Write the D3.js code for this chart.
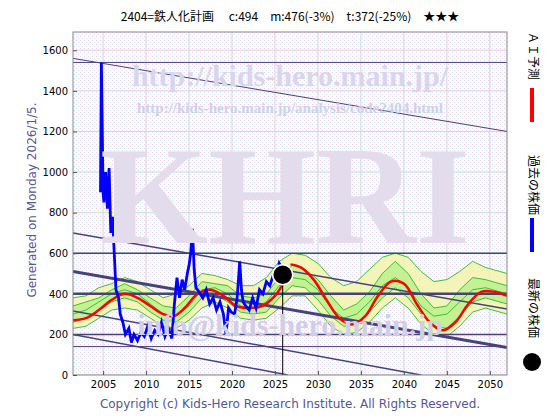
<!DOCTYPE html><html><head><meta charset="utf-8">
<script src="https://cdn.jsdelivr.net/npm/d3@7"></script>
<style>body{margin:0;background:#fff}</style></head><body>
<svg id="c" width="560" height="420"></svg>
<script>
const title="2404=鉄人化計画　 c:494　m:476(-3%)　t:372(-25%)　★★★";
const xTicks=[2005,2010,2015,2020,2025,2030,2035,2040,2045,2050];
const yTicks=[0,200,400,600,800,1000,1200,1400,1600];
const hLines=[[1540,1],[600,1.5],[400,2.5],[200,1.5],[140,1]];
const dLines=[[2001.5,1560,2052,1200,1],[2001.5,700,2052,325,1.5],[2001.5,510,2052,135,3],[2001.5,315,2042,0,1.5],[2001.5,200,2026.5,0,1.5]];
const blueX=[2004.7,2004.8,2005.0,2005.1,2005.3,2005.5,2005.7,2005.9,2006.1,2006.3,2006.5,2006.8,2007.0,2007.3,2007.6,2008.0,2008.3,2008.6,2009.0,2009.4,2009.8,2010.2,2010.6,2011.0,2011.4,2011.8,2012.2,2012.6,2013.0,2013.3,2013.6,2013.9,2014.2,2014.5,2014.8,2015.0,2015.2,2015.4,2015.6,2015.8,2016.0,2016.3,2016.6,2017.0,2017.4,2017.8,2018.2,2018.6,2019.0,2019.3,2019.6,2019.9,2020.3,2020.6,2020.9,2021.1,2021.3,2021.6,2022.0,2022.4,2022.8,2023.2,2023.6,2024.0,2024.4,2024.8,2025.2,2025.5,2025.8];
const blueY=[900,1540,900,850,1000,820,1020,700,780,600,420,380,300,260,200,230,160,200,170,210,190,240,180,220,200,260,190,230,180,350,480,380,470,420,500,540,600,720,520,430,420,400,380,420,350,380,320,360,300,200,330,310,300,380,560,420,360,340,320,380,330,420,400,460,440,490,470,550,530];
const redX=[2001.5,2003,2004.5,2006,2007.5,2009,2010.5,2012,2013.2,2014.5,2016,2017.5,2019,2020.5,2022,2023.5,2025,2026.2];
const redY=[270,280,320,370,400,380,340,300,290,330,400,420,390,340,330,340,390,470];
const red2X=[2026.8,2028,2029.5,2031,2032.5,2034,2035.5,2037,2038.5,2040,2041.5,2043,2044.5,2046,2047.5,2049,2050.5,2052];
const red2Y=[545,530,470,370,280,250,290,390,460,450,350,260,220,260,350,410,410,390];
const bandX=[2001.5,2003,2004.5,2006,2007.5,2009,2010.5,2012,2013.5,2015,2016.5,2018,2019.5,2021,2022.5,2024,2025.5,2027,2028.5,2030,2031.5,2033,2034.5,2036,2037.5,2039,2040.5,2042,2043.5,2045,2046.5,2048,2049.5,2052];
const bandLo=[230,240,280,320,330,320,280,240,230,270,330,360,330,280,270,280,330,390,390,320,240,200,210,260,330,380,330,250,200,190,240,310,330,300];
const bandHi=[380,390,430,450,480,460,420,380,400,440,500,490,470,440,440,480,560,600,590,550,480,440,460,520,580,600,580,510,460,470,510,560,530,500];
const gA=[300,320,360,400,420,400,350,300,290,340,420,430,400,340,330,360,440,480,470,420,330,280,300,360,440,480,430,340,290,300,360,420,430,400];
const gB=[340,360,380,420,450,420,380,340,330,390,460,450,440,390,380,400,480,540,520,470,390,320,350,410,500,560,500,400,330,340,420,480,470,440];
const gC=[260,280,320,360,380,360,310,270,260,310,380,400,360,310,300,310,380,440,430,370,290,240,250,310,380,430,380,300,240,230,290,360,380,350];

const svg=d3.select("#c");
const L=73,R=507,T=32,B=375;
const x=d3.scaleLinear().domain([2001.5,2052]).range([L,R]);
const y=d3.scaleLinear().domain([0,1690]).range([B,T]);
const defs=svg.append("defs");
const p=defs.append("pattern").attr("id","dot").attr("width",4).attr("height",4).attr("patternUnits","userSpaceOnUse");
p.append("rect").attr("width",4).attr("height",4).attr("fill","#fdfafd");
p.append("rect").attr("x",0).attr("y",0).attr("width",1).attr("height",1).attr("fill","#f0d0f0");
p.append("rect").attr("x",2).attr("y",2).attr("width",1).attr("height",1).attr("fill","#c8f0f0");
defs.append("clipPath").attr("id","cl").append("rect").attr("x",L).attr("y",T).attr("width",R-L).attr("height",B-T);
svg.append("rect").attr("x",L).attr("y",T).attr("width",R-L).attr("height",B-T).attr("fill","url(#dot)");
const g=svg.append("g").attr("clip-path","url(#cl)");
xTicks.forEach(t=>g.append("line").attr("x1",x(t)).attr("x2",x(t)).attr("y1",T).attr("y2",B).attr("stroke","#d8d8d8"));
yTicks.forEach(t=>g.append("line").attr("y1",y(t)).attr("y2",y(t)).attr("x1",L).attr("x2",R).attr("stroke","#d8d8d8"));
svg.append("text").attr("x",290).attr("y",86).attr("text-anchor","middle").attr("font-family","Liberation Serif").attr("font-weight","bold").attr("font-size",30).attr("fill","#d6d6ee").text("http://kids-hero.main.jp/");
svg.append("text").attr("x",290).attr("y",113).attr("text-anchor","middle").attr("font-family","Liberation Serif").attr("font-weight","bold").attr("font-size",15).attr("fill","#d0d0ea").text("http://kids-hero.main.jp/analysis/code2404.html");
svg.append("text").attr("x",285).attr("y",243).attr("text-anchor","middle").attr("font-family","Liberation Serif").attr("font-weight","bold").attr("font-size",140).attr("fill","#e2dcec").attr("textLength",370).attr("lengthAdjust","spacingAndGlyphs").text("KHRI");
svg.append("text").attr("x",290).attr("y",335).attr("text-anchor","middle").attr("font-family","Liberation Serif").attr("font-weight","bold").attr("font-size",30).attr("fill","#cfcfe8").text("info@kids-hero.main.jp");
g.append("path").datum(bandX.map((d,i)=>[d,bandLo[i],bandHi[i]])).attr("d",d3.area().x(d=>x(d[0])).y0(d=>y(d[1])).y1(d=>y(d[2]))).attr("fill","#f4f4a8").attr("opacity",0.8);
g.append("path").datum(bandX.map((d,i)=>[d,gC[i],gB[i]])).attr("d",d3.area().x(d=>x(d[0])).y0(d=>y(d[1])).y1(d=>y(d[2]))).attr("fill","#b8f08a").attr("opacity",0.8);
const ln=d3.line().x(d=>x(d[0])).y(d=>y(d[1]));
[bandLo,bandHi,gA,gB,gC].forEach(a=>g.append("path").datum(bandX.map((d,i)=>[d,a[i]])).attr("d",ln).attr("fill","none").attr("stroke","#2cb82c").attr("stroke-width",0.9));
hLines.forEach(h=>g.append("line").attr("x1",L).attr("x2",R).attr("y1",y(h[0])).attr("y2",y(h[0])).attr("stroke","#44447a").attr("stroke-width",h[1]));
dLines.forEach(d=>g.append("line").attr("x1",x(d[0])).attr("y1",y(d[1])).attr("x2",x(d[2])).attr("y2",y(d[3])).attr("stroke","#44447a").attr("stroke-width",d[4]));
const sm=d3.line().x(d=>x(d[0])).y(d=>y(d[1])).curve(d3.curveCatmullRom);
g.append("path").datum(redX.map((d,i)=>[d,redY[i]])).attr("d",sm).attr("fill","none").attr("stroke","#f00").attr("stroke-width",2.5);
g.append("path").datum(red2X.map((d,i)=>[d,red2Y[i]])).attr("d",sm).attr("fill","none").attr("stroke","#f00").attr("stroke-width",2.5);
g.append("path").datum(blueX.map((d,i)=>[d,blueY[i]])).attr("d",ln).attr("fill","none").attr("stroke","#00f").attr("stroke-width",2.8);
g.append("line").attr("x1",x(2025.9)).attr("x2",x(2025.9)).attr("y1",y(494)).attr("y2",B).attr("stroke","#000");
g.append("circle").attr("cx",x(2025.9)).attr("cy",y(494)).attr("r",10).attr("fill","#000").attr("stroke","#fff").attr("stroke-width",1.5);
svg.append("rect").attr("x",L).attr("y",T).attr("width",R-L).attr("height",B-T).attr("fill","none").attr("stroke","#888");
const xa=svg.append("g").attr("transform",`translate(0,${B})`).call(d3.axisBottom(x).tickValues(xTicks).tickFormat(d3.format("d")).tickSize(-4).tickPadding(6));
const ya=svg.append("g").attr("transform",`translate(${L},0)`).call(d3.axisLeft(y).tickValues(yTicks).tickFormat(d3.format("d")).tickSize(-4).tickPadding(5));
[xa,ya].forEach(a=>{a.select(".domain").remove();a.selectAll("text").attr("font-family","DejaVu Sans").attr("font-size",10).attr("fill","#000");a.selectAll("line").attr("stroke","#555")});
svg.append("text").attr("x",290).attr("y",21).attr("text-anchor","middle").attr("font-family","Noto Sans CJK JP").attr("font-size",12).text(title);
svg.append("text").attr("transform","translate(36,200) rotate(-90)").attr("text-anchor","middle").attr("font-family","DejaVu Sans").attr("font-size",12).attr("fill","#555599").text("Generated on Monday 2026/1/5.");
svg.append("text").attr("x",290).attr("y",408).attr("text-anchor","middle").attr("font-family","DejaVu Sans").attr("font-size",12).attr("fill","#555599").text("Copyright (c) Kids-Hero Research Institute. All Rights Reserved.");
const lg=svg.append("g");
const vt=(t,yy)=>lg.append("text").attr("transform",`translate(532,${yy}) rotate(90)`).attr("font-family","Noto Sans CJK JP").attr("font-size",12).attr("dominant-baseline","middle").text(t);
vt("ＡＩ予測",32);lg.append("rect").attr("x",530).attr("y",88).attr("width",4).attr("height",34).attr("fill","#f00");
vt("過去の株価",155);lg.append("rect").attr("x",530).attr("y",218).attr("width",4).attr("height",34).attr("fill","#00f");
vt("最新の株価",278);lg.append("circle").attr("cx",532).attr("cy",362).attr("r",9).attr("fill","#000");
</script></body></html>
